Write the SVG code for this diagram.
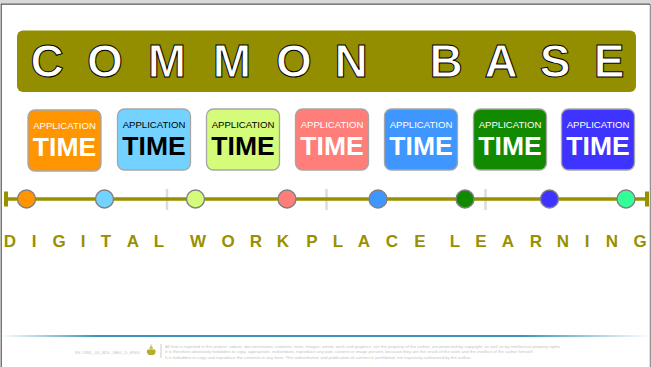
<svg xmlns="http://www.w3.org/2000/svg" width="651" height="367" viewBox="0 0 651 367">
<defs>
<linearGradient id="rule" x1="0" x2="1" y1="0" y2="0">
<stop offset="0" stop-color="#3a95b8" stop-opacity="0"/>
<stop offset="0.15" stop-color="#3a95b8"/>
<stop offset="0.8" stop-color="#3a95b8"/>
<stop offset="1" stop-color="#3a95b8" stop-opacity="0"/>
</linearGradient>
</defs>
<style>
text{font-family:"Liberation Sans",Arial,sans-serif}
.big{font-size:46px;font-weight:bold;fill:#fff;stroke:#000;stroke-width:1px;text-anchor:middle}
.box{stroke:#a6a6a6;stroke-width:1.3px}
.app{font-size:9.6px;text-anchor:middle}
.time{font-size:26.5px;font-weight:bold;text-anchor:middle}
.w{fill:#fff}
.k{fill:#000}
.dot{stroke:#808080;stroke-width:1.4px}
.tick{stroke:#dcdcdc;stroke-width:2.5px}
.dl{font-size:17px;font-weight:bold;fill:#999000;text-anchor:middle}
.fine{font-size:4.35px;fill:#c4c4c4}
</style>
<rect x="0" y="0" width="651" height="3.5" fill="#d9d9d9"/>
<path d="M1.2 367V4.2H650" fill="none" stroke="#555" stroke-width="1.2"/>
<path d="M650.3 4V367" fill="none" stroke="#555" stroke-width="0.8"/>
<g id="banner">
<rect x="17" y="30.500" width="619" height="61.500" rx="6" fill="#938d00"/>
<text class="big" x="47" y="77">C</text><text class="big" x="105" y="77">O</text><text class="big" x="167" y="77">M</text><text class="big" x="232" y="77">M</text><text class="big" x="294" y="77">O</text><text class="big" x="351" y="77">N</text><text class="big" x="446" y="77">B</text><text class="big" x="501" y="77">A</text><text class="big" x="555" y="77">S</text><text class="big" x="609" y="77">E</text>
</g>
<g id="app1"><rect class="box" x="28" y="110" width="73" height="61" rx="7" fill="#ff9500"/><text class="app w" x="64.500" y="129">APPLICATION</text><text class="time w" x="64.500" y="156">TIME</text></g>
<g id="app2"><rect class="box" x="117.500" y="109" width="73" height="61" rx="7" fill="#73d2ff"/><text class="app k" x="154" y="128">APPLICATION</text><text class="time k" x="154" y="155">TIME</text></g>
<g id="app3"><rect class="box" x="206.500" y="109" width="73" height="61" rx="7" fill="#d4fb79"/><text class="app k" x="243" y="128">APPLICATION</text><text class="time k" x="243" y="155">TIME</text></g>
<g id="app4"><rect class="box" x="295.500" y="109" width="73" height="61" rx="7" fill="#ff7e79"/><text class="app w" x="332" y="128">APPLICATION</text><text class="time w" x="332" y="155">TIME</text></g>
<g id="app5"><rect class="box" x="384.500" y="109" width="73" height="61" rx="7" fill="#4096ff"/><text class="app w" x="421" y="128">APPLICATION</text><text class="time w" x="421" y="155">TIME</text></g>
<g id="app6"><rect class="box" x="473.500" y="109" width="73" height="61" rx="7" fill="#118a00"/><text class="app w" x="510" y="128">APPLICATION</text><text class="time w" x="510" y="155">TIME</text></g>
<g id="app7"><rect class="box" x="561.500" y="109" width="73" height="61" rx="7" fill="#3f33ff"/><text class="app w" x="598" y="128">APPLICATION</text><text class="time w" x="598" y="155">TIME</text></g>
<g id="connectors">
<path class="tick" d="M167 189V210M326.500 189V210M485.500 189V210" fill="none"/>
<path d="M6 199H647" stroke="#999000" stroke-width="3.500" fill="none"/>
<path d="M6 191.500V206.500M647 191.500V206.500" stroke="#999000" stroke-width="4" fill="none"/>
</g>
<g id="dot1"><circle class="dot" cx="26.500" cy="199" r="9" fill="#ff9500"/></g>
<g id="dot2"><circle class="dot" cx="104.500" cy="199" r="9" fill="#73d2ff"/></g>
<g id="dot3"><circle class="dot" cx="195.500" cy="199" r="9" fill="#d4fb79"/></g>
<g id="dot4"><circle class="dot" cx="287" cy="199" r="9" fill="#ff7e79"/></g>
<g id="dot5"><circle class="dot" cx="378" cy="199" r="9" fill="#4096ff"/></g>
<g id="dot6"><circle class="dot" cx="465" cy="199" r="9" fill="#118a00"/></g>
<g id="dot7"><circle class="dot" cx="549.500" cy="199" r="9" fill="#3f33ff"/></g>
<g id="dot8"><circle class="dot" cx="626" cy="199" r="9" fill="#33ff99"/></g>
<g id="caption">
<text class="dl" x="10" y="247">D</text><text class="dl" x="34" y="247">I</text><text class="dl" x="59" y="247">G</text><text class="dl" x="83" y="247">I</text><text class="dl" x="106" y="247">T</text><text class="dl" x="133" y="247">A</text><text class="dl" x="159" y="247">L</text><text class="dl" x="198" y="247">W</text><text class="dl" x="228" y="247">O</text><text class="dl" x="256" y="247">R</text><text class="dl" x="283" y="247">K</text><text class="dl" x="312" y="247">P</text><text class="dl" x="338" y="247">L</text><text class="dl" x="364" y="247">A</text><text class="dl" x="392" y="247">C</text><text class="dl" x="420" y="247">E</text><text class="dl" x="455" y="247">L</text><text class="dl" x="481" y="247">E</text><text class="dl" x="508" y="247">A</text><text class="dl" x="536" y="247">R</text><text class="dl" x="563" y="247">N</text><text class="dl" x="587" y="247">I</text><text class="dl" x="612" y="247">N</text><text class="dl" x="640" y="247">G</text>
</g>
<g id="footer">
<rect x="0" y="335" width="651" height="2" fill="url(#rule)"/>
<text class="fine" x="75" y="353.500">Rif. DWL_00_BDL_NEU_D_EN/0</text>
<path d="M147.500 349.500h7.500a3.800 3.800 0 0 1-1.500 5.500h-4.500a3.800 3.800 0 0 1-1.500-5.500z" fill="#b5ad2e"/><circle cx="151.200" cy="348" r="1.800" fill="#c9c24a"/><path d="M151.200 344.500V347" stroke="#b5ad2e" stroke-width="0.7"/>
<path d="M161 344V358" stroke="#bdbdbd" stroke-width="0.8"/>
<text class="fine" x="165" y="347.500">All that is reported in this project, videos, documentation, contents, texts, images, artistic work and graphics, are the property of the author, are protected by copyright, as well as by intellectual property rights.</text>
<text class="fine" x="165" y="353">It is therefore absolutely forbidden to copy, appropriate, redistribute, reproduce any part, content or image present, because they are the result of the work and the intellect of the author himself.</text>
<text class="fine" x="165" y="358.500">It is forbidden to copy and reproduce the contents in any form.     The redistribution and publication of content is prohibited, not expressly authorized by the author.</text>
</g>
</svg>
